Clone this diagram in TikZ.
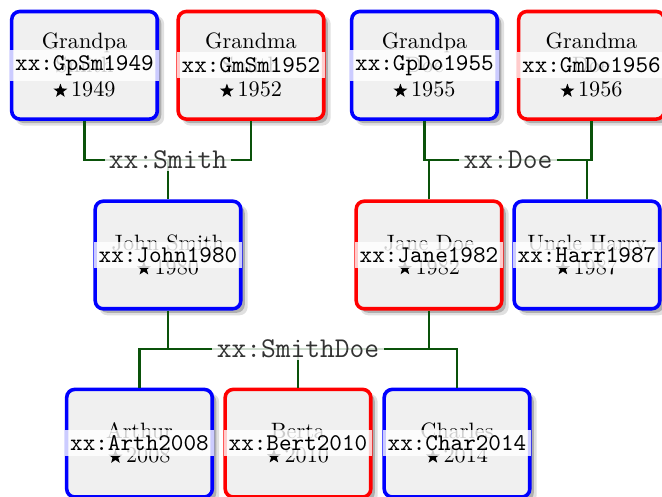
\documentclass[tikz,border=0pt]{standalone}
\usepackage{tikz}
\usetikzlibrary{shadows}
\usepackage{xcolor}
\definecolor{boxgray}{HTML}{F0F0F0}
\definecolor{famgreen}{HTML}{0A520A}
\newcommand{\bornsym}{\tikz[baseline=-2.7pt, x=1pt, y=1pt, sharp corners]\fill[black, draw=none]
  (90:3.3) -- (126:1.35) -- (162:3.3) -- (198:1.35) -- (234:3.3) -- (270:1.35)
  -- (306:3.3) -- (342:1.35) -- (18:3.3) -- (54:1.35) -- cycle;\,}

\begin{document}
\begin{tikzpicture}[x=0.45pt, y=-0.45pt,
    person/.style={draw, line width=1.6pt, rounded corners=3.6pt, fill=boxgray,
      minimum width=65.5pt, minimum height=48.4pt, inner sep=0pt, align=center,
      font=\fontsize{10}{10.8}\selectfont,
      drop shadow={shadow xshift=2.4pt, shadow yshift=-2.4pt, shadow scale=1.02, opacity=0.12, fill=black},
      drop shadow={shadow xshift=1.8pt, shadow yshift=-1.8pt, opacity=0.22, fill=black}},
    male/.style={person, draw=blue},
    female/.style={person, draw=red},
    idband/.style={fill=white, fill opacity=0.8, text opacity=1, text=black,
      minimum width=67pt, inner xsep=0pt, inner ysep=2.4pt, font=\fontsize{10.8}{12}\ttfamily},
    famline/.style={draw=famgreen, line width=1.3pt},
    famlabel/.style={fill=white, fill opacity=0.8, text opacity=1, text=black!80,
      inner xsep=2pt, inner ysep=1pt, font=\fontsize{12.9}{14}\ttfamily}]
    \useasboundingbox (0,0) rectangle (662,497);

    % grandparents
    \node[male] (GpSm) at (84.5,65.3) {Grandpa\\Smith\\\bornsym1949};
    \node[female] (GmSm) at (251,65.3) {Grandma\\Smith\\\bornsym1952};
    \node[male] (GpDo) at (424.5,65.3) {Grandpa\\Doe\\\bornsym1955};
    \node[female] (GmDo) at (591.5,65.3) {Grandma\\Doe\\\bornsym1956};

    % parents
    \node[male] (John) at (168,255) {John Smith\\\bornsym1980};
    \node[female] (Jane) at (429,255) {Jane Doe\\\bornsym1982};
    \node[male] (Harry) at (587,255) {Uncle Harry\\\bornsym1987};

    % children
    \node[male] (Arthur) at (139.5,443.2) {Arthur\\\bornsym2008};
    \node[female] (Berta) at (298,443.2) {Berta\\\bornsym2010};
    \node[male] (Charles) at (457,443.2) {Charles\\\bornsym2014};

    % id bands
    \node[idband] (GpSmid) at (GpSm) {xx:GpSm1949};
    \node[idband] (GmSmid) at (GmSm) {xx:GmSm1952};
    \node[idband] (GpDoid) at (GpDo) {xx:GpDo1955};
    \node[idband] (GmDoid) at (GmDo) {xx:GmDo1956};
    \node[idband] (Johnid) at (John) {xx:John1980};
    \node[idband] (Janeid) at (Jane) {xx:Jane1982};
    \node[idband] (Harryid) at (Harry) {xx:Harr1987};
    \node[idband] (Arthurid) at (Arthur) {xx:Arth2008};
    \node[idband] (Bertaid) at (Berta) {xx:Bert2010};
    \node[idband] (Charlesid) at (Charles) {xx:Char2014};

    % family Smith
    \coordinate (smith) at (168,160);
    \draw[famline] (GpSm.south) |- (smith) -| (GmSm.south);
    \draw[famline] (smith) -- (John.north);
    \node[famlabel] (smithlbl) at (smith) {xx:Smith};

    % family Doe
    \coordinate (doe) at (508,160);
    \draw[famline] (GpDo.south) |- (doe) -| (GmDo.south);
    \draw[famline] (Jane.north) |- (doe) -| (Harry.north);
    \node[famlabel] (doelbl) at (doe) {xx:Doe};

    % family SmithDoe
    \coordinate (smithdoe) at (298,349);
    \draw[famline] (John.south) |- (smithdoe) -| (Jane.south);
    \draw[famline] (Arthur.north) |- (smithdoe) -| (Charles.north);
    \draw[famline] (smithdoe) -- (Berta.north);
    \node[famlabel] (smithdoelbl) at (smithdoe) {xx:SmithDoe};
\end{tikzpicture}
\end{document}
